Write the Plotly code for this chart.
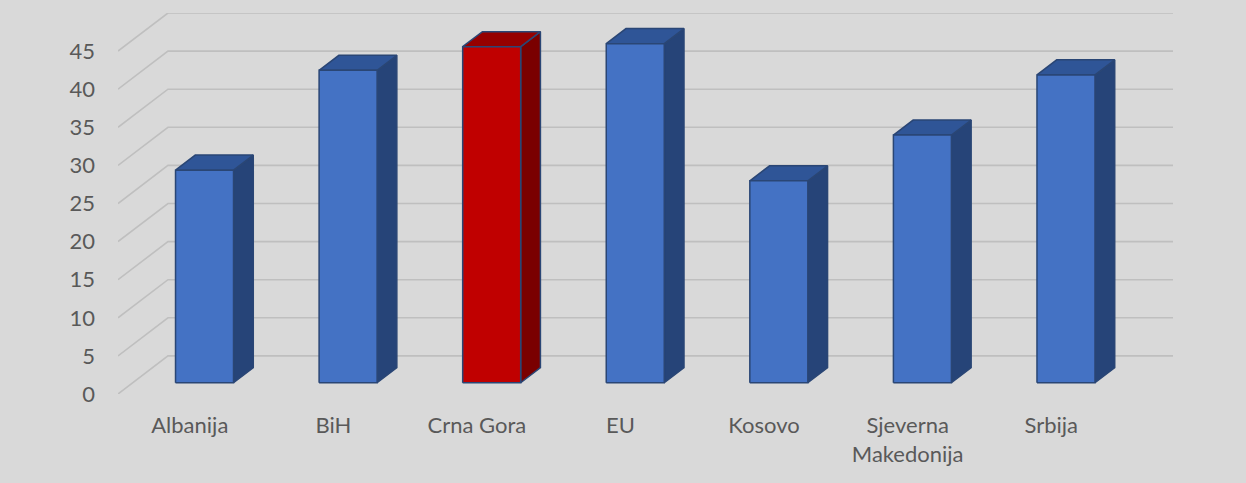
import plotly.graph_objects as go

countries = ["Albanija", "BiH", "Crna Gora", "EU", "Kosovo", "Sjeverna<br>Makedonija", "Srbija"]
values = [27.9, 41.0, 44.1, 44.5, 26.5, 32.5, 40.4]
highlight = "Crna Gora"
y_ticks = [0, 5, 10, 15, 20, 25, 30, 35, 40, 45]

# oblique "3d" projection: going to the back wall shifts by (DX, DY) in data units
DX, DY = 0.348, 5.0
F_FRONT, F_BACK = 0.295, 0.69   # depth of bar front/back face
HALF_W = 0.202

BLUE = dict(front="#4472c4", side="#264478", top="#2f5597")
RED = dict(front="#c00000", side="#7a0000", top="#960000")
EDGE = "#2a4675"
GRID = "#bfbfbf"
TEXT = "#595959"

fig = go.Figure()

# back wall gridlines and the diagonal floor/side lines
n = len(countries)
for v in y_ticks:
    fig.add_trace(go.Scatter(
        x=[0, DX, n + DX], y=[v, v + DY, v + DY],
        mode="lines", line=dict(color=GRID, width=1.6),
        hoverinfo="skip", showlegend=False,
    ))


def poly(xs, ys, color):
    fig.add_trace(go.Scatter(
        x=xs + xs[:1], y=ys + ys[:1], mode="lines", fill="toself",
        fillcolor=color, line=dict(color=EDGE, width=1.5),
        hoverinfo="skip", showlegend=False,
    ))


for i, (name, v) in enumerate(zip(countries, values)):
    pal = RED if name == highlight else BLUE
    c = i + 0.5
    xl1, xr1 = c - HALF_W + F_FRONT * DX, c + HALF_W + F_FRONT * DX
    xl2, xr2 = c - HALF_W + F_BACK * DX, c + HALF_W + F_BACK * DX
    b1, b2 = F_FRONT * DY, F_BACK * DY
    # side face
    poly([xr1, xr2, xr2, xr1], [b1, b2, v + b2, v + b1], pal["side"])
    # top face
    poly([xl1, xr1, xr2, xl2], [v + b1, v + b1, v + b2, v + b2], pal["top"])
    # front face
    poly([xl1, xr1, xr1, xl1], [b1, b1, v + b1, v + b1], pal["front"])

fig.update_layout(
    width=1246, height=483,
    paper_bgcolor="#d9d9d9", plot_bgcolor="#d9d9d9",
    margin=dict(l=118, r=73, t=13, b=89),
    font=dict(family="Lato, 'Open Sans', sans-serif", size=22, color=TEXT),
    xaxis=dict(
        range=[0, n + DX], tickmode="array",
        tickvals=[i + 0.5 for i in range(n)], ticktext=countries,
        showgrid=False, zeroline=False, showline=False,
        ticks="", ticklabelstandoff=16, fixedrange=True,
    ),
    yaxis=dict(
        range=[0, 50], tickmode="array", tickvals=y_ticks,
        showgrid=False, zeroline=False, showline=False,
        ticks="", ticklabelstandoff=22, fixedrange=True,
    ),
)

fig.write_html(
    "out.html",
    config={"displayModeBar": False},
    post_script="document.body.style.margin='0';",
)
